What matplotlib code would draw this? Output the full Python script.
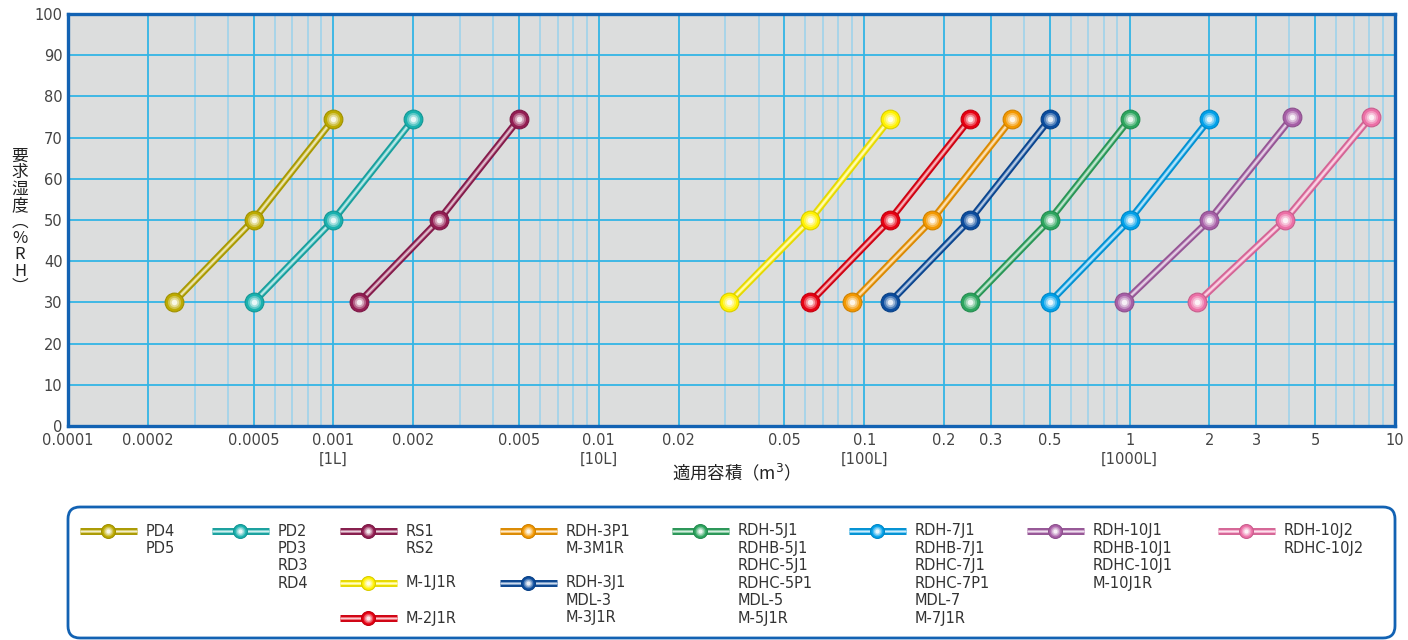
import numpy as np
import matplotlib
matplotlib.use("Agg")
import matplotlib.pyplot as plt
from matplotlib.patches import FancyBboxPatch
from matplotlib.colors import to_rgb

plt.rcParams['font.family'] = ['DejaVu Sans', 'Noto Sans CJK JP']

# volume (m3) at 30 / 50 / 74.5 %RH for each model group
vol_pd4 = [0.00025, 0.0005, 0.001]
vol_pd2 = [0.0005, 0.001, 0.002]
vol_rs1 = [0.00125, 0.0025, 0.005]
vol_m1 = [0.031, 0.0625, 0.125]
vol_m2 = [0.0625, 0.125, 0.25]
vol_3p1 = [0.09, 0.18, 0.36]
vol_3j1 = [0.125, 0.25, 0.5]
vol_5j1 = [0.25, 0.5, 1.0]
vol_7j1 = [0.5, 1.0, 2.0]
vol_10j1 = [0.95, 2.0, 4.1]
vol_10j2 = [1.8, 3.85, 8.1]

rh_a = [30, 50, 74.5]
rh_b = [30, 50, 75]

names = ["PD4\nPD5", "PD2\nPD3\nRD3\nRD4", "RS1\nRS2", "M-1J1R", "M-2J1R",
         "RDH-3P1\nM-3M1R", "RDH-3J1\nMDL-3\nM-3J1R",
         "RDH-5J1\nRDHB-5J1\nRDHC-5J1\nRDHC-5P1\nMDL-5\nM-5J1R",
         "RDH-7J1\nRDHB-7J1\nRDHC-7J1\nRDHC-7P1\nMDL-7\nM-7J1R",
         "RDH-10J1\nRDHB-10J1\nRDHC-10J1\nM-10J1R",
         "RDH-10J2\nRDHC-10J2"]
vols = [vol_pd4, vol_pd2, vol_rs1, vol_m1, vol_m2, vol_3p1, vol_3j1,
        vol_5j1, vol_7j1, vol_10j1, vol_10j2]
rhs = [rh_a] * 9 + [rh_b, rh_b]
colors = ['#bcaa00', '#19b1ae', '#931d52', '#fff100', '#e60012', '#f39800',
          '#0b4c9e', '#2ca55e', '#00a0e9', '#a65ea6', '#ec6fa6']

xticks = [1e-4, 2e-4, 5e-4, 1e-3, 2e-3, 5e-3, 0.01, 0.02, 0.05,
          0.1, 0.2, 0.3, 0.5, 1, 2, 3, 5, 10]
xlabels = ['0.0001', '0.0002', '0.0005', '0.001\n[1L]', '0.002', '0.005',
           '0.01\n[10L]', '0.02', '0.05', '0.1\n[100L]', '0.2', '0.3', '0.5',
           '1\n[1000L]', '2', '3', '5', '10']

# legend layout (pixel positions: icon left x, row y)
leg_pos = [(80, 531), (212, 531), (340, 531), (340, 583), (340, 618),
           (500, 531), (500, 583), (672, 531), (849, 531), (1027, 531),
           (1218, 531)]

W, H = 1408, 640
fig = plt.figure(figsize=(W / 100, H / 100), dpi=100)
ax = fig.add_axes([68 / W, 1 - 426 / H, (1395 - 68) / W, (426 - 14) / H])
ax.set_xscale('log')
ax.set_xlim(1e-4, 10)
ax.set_ylim(0, 100)
ax.set_facecolor('#dcdddd')

minor = [m * 10.0 ** k for k in range(-4, 1) for m in range(2, 10)]
minor = [v for v in minor if not any(abs(v - t) / t < 1e-6 for t in xticks)]
ax.set_xticks(xticks)
ax.set_xticklabels(xlabels, linespacing=1.3)
ax.set_xticks(minor, minor=True)
ax.set_xticklabels([], minor=True)
ax.set_yticks(range(0, 101, 10))
ax.tick_params(which='both', length=0, labelsize=10.5, colors='#444444')
ax.tick_params(axis='x', pad=5)
ax.tick_params(axis='y', pad=4)
ax.grid(which='minor', axis='x', color='#a4d4ea', lw=1.3)
ax.grid(which='major', color='#33b5e5', lw=1.3)
ax.set_axisbelow(True)
for s in ax.spines.values():
    s.set_color('#1262b3')
    s.set_linewidth(2.4)
    s.set_zorder(10)


def shade(c, f):
    r = np.array(to_rgb(c))
    return tuple(r + (1 - r) * f)


def darker(c, f):
    return tuple(np.array(to_rgb(c)) * (1 - f))


def glossy_line(axis, x, y, c, lw, ms):
    axis.plot(x, y, color=darker(c, 0.1), lw=lw, solid_capstyle='butt', zorder=3)
    axis.plot(x, y, color=shade(c, 0.45), lw=lw * 0.45, solid_capstyle='butt', zorder=3)
    axis.plot(x, y, color=shade(c, 0.8), lw=lw * 0.15, solid_capstyle='butt', zorder=3)
    if ms:
        axis.plot(x, y, 'o', ms=ms, mfc=c, mec=darker(c, 0.15), mew=0.8, zorder=5)
        for k, f in [(0.7, 0.3), (0.5, 0.6), (0.3, 0.9)]:
            axis.plot(x, y, 'o', ms=ms * k, mfc=shade(c, f), mew=0, zorder=6)


for x, y, c in zip(vols, rhs, colors):
    glossy_line(ax, x, y, c, 5.0, 13.5)

fig.text(20 / W, 1 - 222 / H, "要\n求\n湿\n度\n︵\n%\nR\nH\n︶",
         family=['Noto Sans CJK JP', 'DejaVu Sans'],
         ha='center', va='center', fontsize=12, linespacing=0.95, color='#222222')
ax.set_xlabel("適用容積（m$^3$）", fontsize=12.5, color='#222222', labelpad=-3,
              family=['Noto Sans CJK JP', 'DejaVu Sans'])

# legend panel in pixel coordinates
lax = fig.add_axes([0, 0, 1, 1], zorder=-1)
lax.set_xlim(0, W)
lax.set_ylim(H, 0)
lax.axis('off')
lax.add_patch(FancyBboxPatch((68, 507), 1327, 131,
                             boxstyle='round,pad=0,rounding_size=12',
                             fc='white', ec='#1262b3', lw=2.0))
for (lx, ly), name, c in zip(leg_pos, names, colors):
    glossy_line(lax, [lx, lx + 57], [ly, ly], c, 5.0, 0)
    lax.plot([lx + 28], [ly], 'o', ms=10, mfc=c, mec=darker(c, 0.15), mew=0.8, zorder=5)
    for k, f in [(0.7, 0.3), (0.5, 0.6), (0.3, 0.9)]:
        lax.plot([lx + 28], [ly], 'o', ms=10 * k, mfc=shade(c, f), mew=0, zorder=6)
    for i, line in enumerate(name.split('\n')):
        lax.text(lx + 66, ly + i * 17.4, line, fontsize=10.5, color='#333333',
                 ha='left', va='center')

fig.savefig('out.png', dpi=100)
